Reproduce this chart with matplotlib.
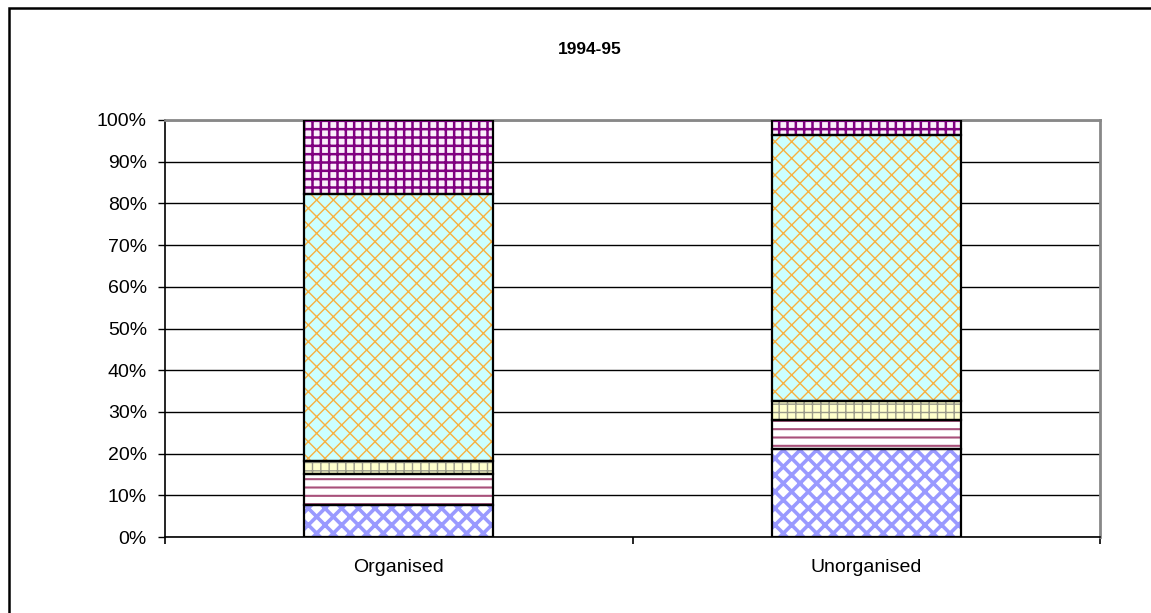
import numpy as np
import matplotlib
matplotlib.use('Agg')
from matplotlib import pyplot as plt
from matplotlib.patches import Rectangle
from matplotlib.ticker import PercentFormatter

plt.rcParams['font.family'] = ['Liberation Sans', 'DejaVu Sans']

# data (share of each component, %)
categories = ['Organised', 'Unorganised']
seg1 = [7.7, 21.1]
seg2 = [7.4, 7.0]
seg3 = [3.2, 4.6]
seg4 = [63.9, 63.7]
seg5 = [17.8, 3.6]
segments = [seg1, seg2, seg3, seg4, seg5]

# (face colour, hatch colour, hatch, hatch linewidth)
styles = [
    ('white', '#9999ff', 'xx', 2.6),
    ('white', '#a8507a', '--', 1.5),
    ('#ffffcc', '#9a9a8a', '++', 1.0),
    ('#ccffff', '#f8b040', 'xx', 1.0),
    ('#fbeefb', '#800080', '++', 1.8),
]

fig = plt.figure(figsize=(11.51, 6.13), dpi=100)
ax = fig.add_axes([165 / 1151, 76 / 613, 935 / 1151, 417 / 613])

x = np.array([0.5, 1.5])
width = 0.404
bottom = np.zeros(len(categories))
for vals, (fc, hc, hatch, hlw) in zip(segments, styles):
    vals = np.array(vals)
    bars = ax.bar(x, vals, width, bottom=bottom, color=fc, edgecolor=hc,
                  hatch=hatch, linewidth=0, zorder=3)
    for b in bars:
        if hasattr(b, 'set_hatch_linewidth'):
            b.set_hatch_linewidth(hlw)
    # black outline on top of the hatch
    ax.bar(x, vals, width, bottom=bottom, fill=False, edgecolor='black',
           linewidth=1.6, zorder=4)
    bottom += vals

ax.set_xlim(0, 2)
ax.set_ylim(0, 100)
ax.set_yticks(np.arange(0, 101, 10))
ax.yaxis.set_major_formatter(PercentFormatter(decimals=0))
ax.yaxis.grid(True, color='black', linewidth=1, zorder=0)

ax.set_xticks([0, 1, 2])
ax.set_xticklabels([])
ax.set_xticks(x, minor=True)
ax.set_xticklabels(categories, minor=True)
ax.tick_params(axis='x', which='minor', length=0, pad=16, labelsize=14)
ax.tick_params(axis='x', which='major', length=5, width=1.2, direction='out')
ax.tick_params(axis='y', length=5, width=1, direction='out', pad=8, labelsize=14)

for side in ['left', 'bottom']:
    ax.spines[side].set_color('black')
    ax.spines[side].set_linewidth(1.2)
for side in ['top', 'right']:
    ax.spines[side].set_color('#888888')
    ax.spines[side].set_linewidth(2)

fig.text(590 / 1151, 1 - 50 / 613, '1994-95', ha='center', va='center',
         fontsize=12.5, fontweight='bold')

# outer chart border (runs off the right and bottom edges)
fig.patches.append(Rectangle((9 / 1151, -0.1), 1.2, 1 - 8 / 613 + 0.1,
                             transform=fig.transFigure, fill=False,
                             edgecolor='black', linewidth=1.8))

plt.savefig('out.png', dpi=100)
